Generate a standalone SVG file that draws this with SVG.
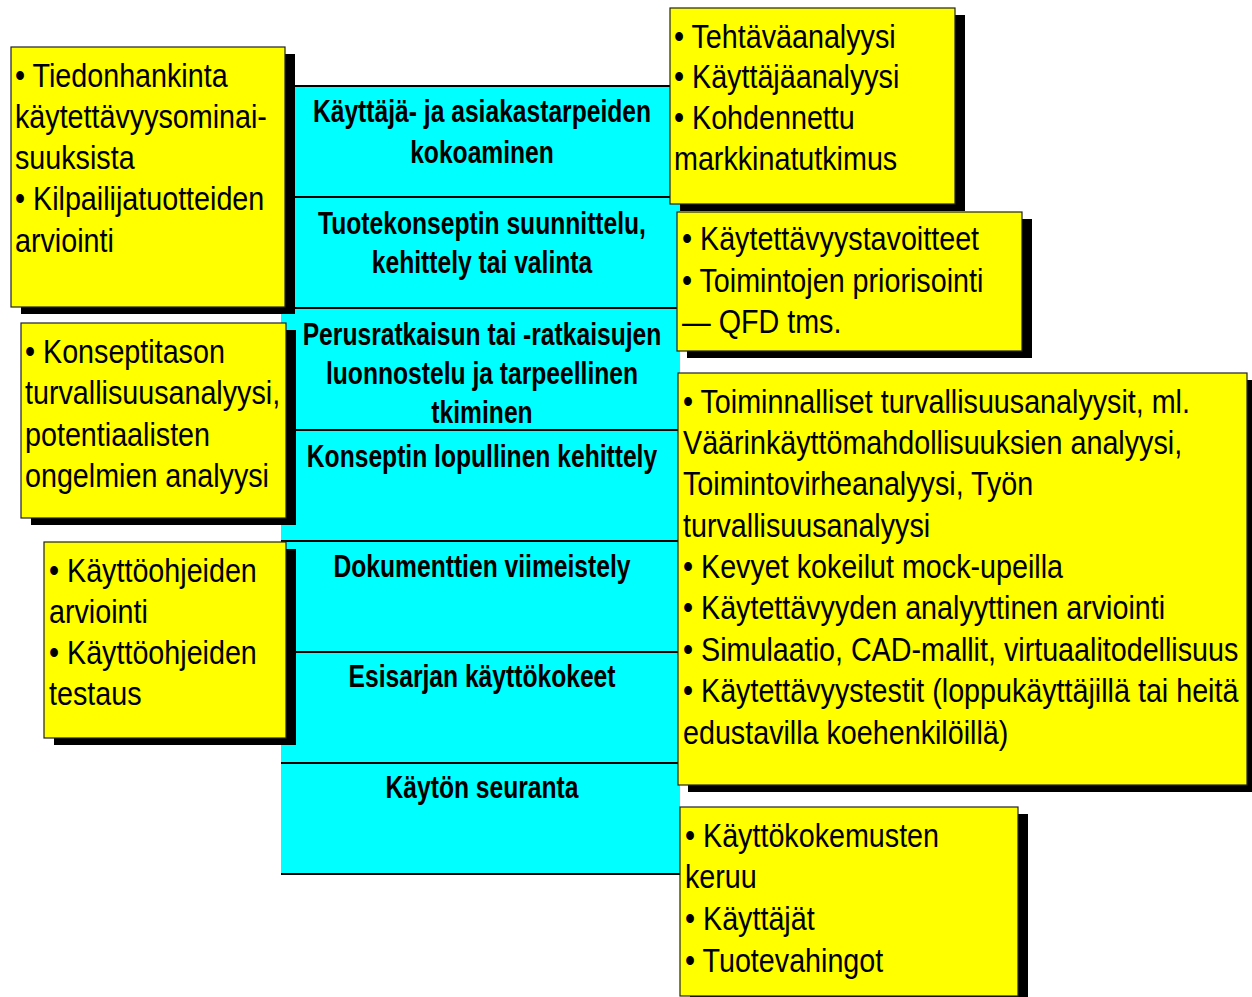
<svg xmlns="http://www.w3.org/2000/svg" width="1252" height="997" viewBox="0 0 1252 997">
<style>
.bg{fill:#fff}
.col{fill:#00ffff}
.sep{stroke:#000;stroke-width:2}
.sh{fill:#000}
.box{fill:#ffff00;stroke:#222;stroke-width:1.2}
.t{font-family:"Liberation Sans",Arial,sans-serif;font-size:33px;fill:#000}
.c{font-family:"Liberation Sans",Arial,sans-serif;font-size:32px;font-weight:bold;fill:#000;text-anchor:middle}
</style>
<rect class="bg" x="0" y="0" width="1252" height="997"/>

<g id="phases">
  <rect class="col" x="281" y="86" width="399" height="788"/>
  <g id="phase-lines">
    <line class="sep" x1="281" y1="86" x2="680" y2="86"/>
    <line class="sep" x1="281" y1="197" x2="680" y2="197"/>
    <line class="sep" x1="281" y1="308" x2="680" y2="308"/>
    <line class="sep" x1="281" y1="430" x2="680" y2="430"/>
    <line class="sep" x1="281" y1="541" x2="680" y2="541"/>
    <line class="sep" x1="281" y1="652" x2="680" y2="652"/>
    <line class="sep" x1="281" y1="763" x2="680" y2="763"/>
    <line class="sep" x1="281" y1="874" x2="680" y2="874"/>
  </g>
  <g id="phase1"><text class="c" transform="matrix(0.77 0 0 1 482 0)"><tspan x="0" y="122">Käyttäjä- ja asiakastarpeiden</tspan><tspan x="0" y="163">kokoaminen</tspan></text></g>
  <g id="phase2"><text class="c" transform="matrix(0.77 0 0 1 482 0)"><tspan x="0" y="234">Tuotekonseptin suunnittelu,</tspan><tspan x="0" y="273">kehittely tai valinta</tspan></text></g>
  <g id="phase3"><text class="c" transform="matrix(0.77 0 0 1 482 0)"><tspan x="0" y="345">Perusratkaisun tai -ratkaisujen</tspan><tspan x="0" y="384">luonnostelu ja tarpeellinen</tspan><tspan x="0" y="423">tkiminen</tspan></text></g>
  <g id="phase4"><text class="c" transform="matrix(0.77 0 0 1 482 0)"><tspan x="0" y="467">Konseptin lopullinen kehittely</tspan></text></g>
  <g id="phase5"><text class="c" transform="matrix(0.77 0 0 1 482 0)"><tspan x="0" y="577">Dokumenttien viimeistely</tspan></text></g>
  <g id="phase6"><text class="c" transform="matrix(0.77 0 0 1 482 0)"><tspan x="0" y="687">Esisarjan käyttökokeet</tspan></text></g>
  <g id="phase7"><text class="c" transform="matrix(0.77 0 0 1 482 0)"><tspan x="0" y="798">Käytön seuranta</tspan></text></g>
</g>

<g id="left1">
  <rect class="sh" x="21" y="54" width="274" height="260"/>
  <rect class="box" x="11" y="47" width="274" height="260"/>
  <text class="t" transform="matrix(0.87 0 0 1 15 0)"><tspan x="0" y="87">• Tiedonhankinta</tspan><tspan x="0" y="128">käytettävyysominai-</tspan><tspan x="0" y="169">suuksista</tspan><tspan x="0" y="210">• Kilpailijatuotteiden</tspan><tspan x="0" y="252">arviointi</tspan></text>
</g>

<g id="left2">
  <rect class="sh" x="31" y="330" width="265" height="195"/>
  <rect class="box" x="21" y="323" width="265" height="195"/>
  <text class="t" transform="matrix(0.87 0 0 1 25 0)"><tspan x="0" y="363">• Konseptitason</tspan><tspan x="0" y="404">turvallisuusanalyysi,</tspan><tspan x="0" y="446">potentiaalisten</tspan><tspan x="0" y="487">ongelmien analyysi</tspan></text>
</g>

<g id="left3">
  <rect class="sh" x="54" y="549" width="242" height="196"/>
  <rect class="box" x="44" y="542" width="242" height="196"/>
  <text class="t" transform="matrix(0.87 0 0 1 49 0)"><tspan x="0" y="582">• Käyttöohjeiden</tspan><tspan x="0" y="623">arviointi</tspan><tspan x="0" y="664">• Käyttöohjeiden</tspan><tspan x="0" y="705">testaus</tspan></text>
</g>

<g id="right1">
  <rect class="sh" x="680" y="15" width="285" height="196"/>
  <rect class="box" x="670" y="8" width="285" height="196"/>
  <text class="t" transform="matrix(0.87 0 0 1 674 0)"><tspan x="0" y="48">• Tehtäväanalyysi</tspan><tspan x="0" y="88.5">• Käyttäjäanalyysi</tspan><tspan x="0" y="129">• Kohdennettu</tspan><tspan x="0" y="170">markkinatutkimus</tspan></text>
</g>

<g id="right2">
  <rect class="sh" x="687" y="219" width="345" height="139"/>
  <rect class="box" x="677" y="212" width="345" height="139"/>
  <text class="t" transform="matrix(0.87 0 0 1 682 0)"><tspan x="0" y="250">• Käytettävyystavoitteet</tspan><tspan x="0" y="292">• Toimintojen priorisointi</tspan><tspan x="0" y="333">— QFD tms.</tspan></text>
</g>

<g id="right3">
  <rect class="sh" x="688" y="380" width="569" height="412"/>
  <rect class="box" x="678" y="373" width="569" height="412"/>
  <text class="t" transform="matrix(0.87 0 0 1 683 0)"><tspan x="0" y="413">• Toiminnalliset turvallisuusanalyysit, ml.</tspan><tspan x="0" y="454">Väärinkäyttömahdollisuuksien analyysi,</tspan><tspan x="0" y="495">Toimintovirheanalyysi, Työn</tspan><tspan x="0" y="537">turvallisuusanalyysi</tspan><tspan x="0" y="578">• Kevyet kokeilut mock-upeilla</tspan><tspan x="0" y="619">• Käytettävyyden analyyttinen arviointi</tspan><tspan x="0" y="661">• Simulaatio, CAD-mallit, virtuaalitodellisuus</tspan><tspan x="0" y="702">• Käytettävyystestit (loppukäyttäjillä tai heitä</tspan><tspan x="0" y="744">edustavilla koehenkilöillä)</tspan></text>
</g>

<g id="right4">
  <rect class="sh" x="690" y="814" width="338" height="189"/>
  <rect class="box" x="680" y="807" width="338" height="189"/>
  <text class="t" transform="matrix(0.87 0 0 1 685 0)"><tspan x="0" y="847">• Käyttökokemusten</tspan><tspan x="0" y="888">keruu</tspan><tspan x="0" y="930">• Käyttäjät</tspan><tspan x="0" y="972">• Tuotevahingot</tspan></text>
</g>
</svg>
